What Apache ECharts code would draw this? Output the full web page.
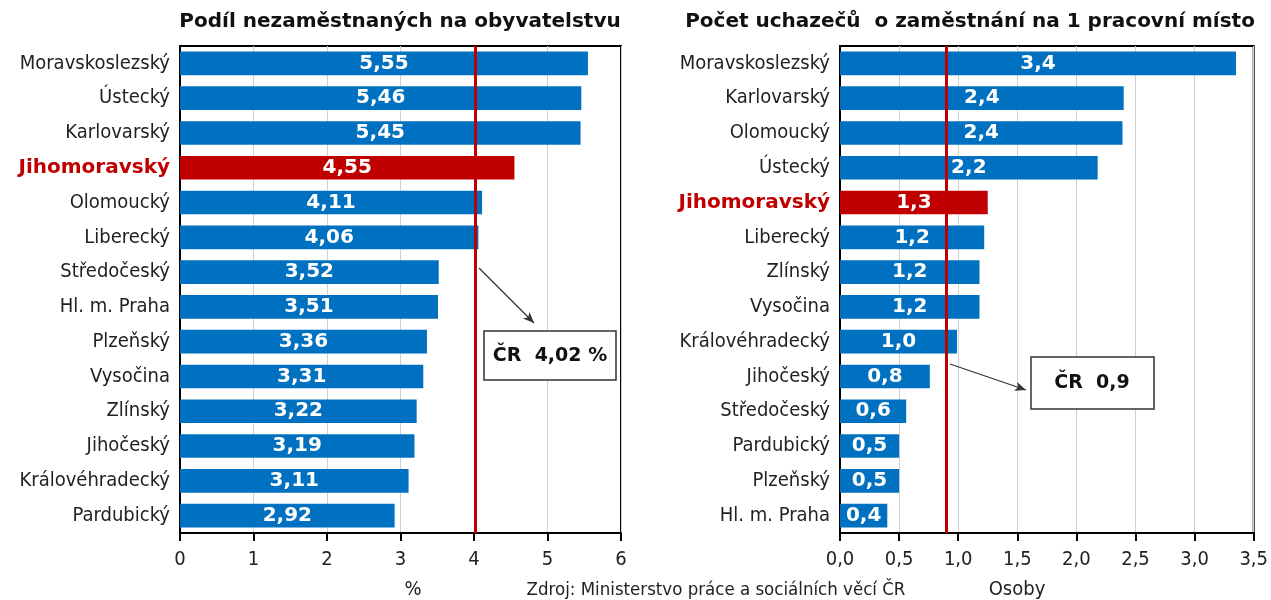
<!DOCTYPE html>
<html>
<head>
<meta charset="utf-8">
<script src="https://cdn.jsdelivr.net/npm/echarts@6/dist/echarts.min.js"></script>
<style>
  html, body { margin: 0; padding: 0; background: #fff; }
  #chart { width: 1271px; height: 600px; }
</style>
</head>
<body>
<div id="chart"></div>
<script>
  // podíl nezaměstnaných (%)
  const leftRegions = ['Moravskoslezský', 'Ústecký', 'Karlovarský', 'Jihomoravský', 'Olomoucký', 'Liberecký',
    'Středočeský', 'Hl. m. Praha', 'Plzeňský', 'Vysočina', 'Zlínský', 'Jihočeský', 'Královéhradecký', 'Pardubický'];
  const leftValues = [5.55, 5.46, 5.45, 4.55, 4.11, 4.06, 3.52, 3.51, 3.36, 3.31, 3.22, 3.19, 3.11, 2.92];
  const leftCR = 4.02;

  // uchazeči na 1 pracovní místo
  const rightRegions = ['Moravskoslezský', 'Karlovarský', 'Olomoucký', 'Ústecký', 'Jihomoravský', 'Liberecký',
    'Zlínský', 'Vysočina', 'Královéhradecký', 'Jihočeský', 'Středočeský', 'Pardubický', 'Plzeňský', 'Hl. m. Praha'];
  const rightValues = [3.35, 2.4, 2.39, 2.18, 1.25, 1.22, 1.18, 1.18, 0.99, 0.76, 0.56, 0.5, 0.5, 0.4];
  const rightCR = 0.9;

  const highlight = 'Jihomoravský';
  const BLUE = '#0070c0';
  const RED = '#c00000';
  const FONT = "'DejaVu Sans Condensed', 'DejaVu Sans', sans-serif";

  const comma = (v, d) => v.toFixed(d).replace('.', ',');

  function barData(names, values) {
    return values.map((v, i) => ({
      value: v,
      itemStyle: { color: names[i] === highlight ? RED : BLUE }
    }));
  }

  function yAxis(idx, names) {
    return {
      type: 'category',
      gridIndex: idx,
      data: names,
      inverse: true,
      axisLine: { lineStyle: { color: '#000', width: 2 } },
      axisTick: { length: 5, lineStyle: { color: '#000', width: 2 } },
      axisLabel: {
        margin: 10,
        fontFamily: FONT,
        fontSize: 20,
        color: '#222',
        formatter: n => n === highlight ? '{hl|' + n + '}' : n,
        rich: { hl: { color: RED, fontWeight: 'bold', fontSize: 20, fontFamily: "'DejaVu Sans', sans-serif" } }
      }
    };
  }

  function xAxis(idx, max, interval, digits) {
    return {
      type: 'value',
      gridIndex: idx,
      min: 0,
      max: max,
      interval: interval,
      axisLine: { show: true, lineStyle: { color: '#000', width: 2 } },
      axisTick: { show: true, length: 8, lineStyle: { color: '#000', width: 2 } },
      splitLine: { lineStyle: { color: '#d0d0d0', width: 1 } },
      axisLabel: {
        margin: 17,
        fontFamily: FONT,
        fontSize: 20,
        color: '#222',
        formatter: v => comma(v, digits)
      }
    };
  }

  function barSeries(idx, names, values, digits, cr, arrow) {
    return {
      type: 'bar',
      xAxisIndex: idx,
      yAxisIndex: idx,
      data: barData(names, values),
      barCategoryGap: '32%',
      label: {
        show: true,
        position: 'inside',
        color: '#fff',
        fontFamily: "'DejaVu Sans', sans-serif",
        fontWeight: 'bold',
        fontSize: 20,
        formatter: p => comma(p.value, digits)
      },
      markLine: {
        silent: true,
        animation: false,
        symbol: 'none',
        label: { show: false },
        data: [
          { xAxis: cr, lineStyle: { color: RED, width: 3, type: 'solid' } },
          [
            { x: arrow[0], y: arrow[1], symbol: 'none', lineStyle: { color: '#333', width: 1.2, type: 'solid' } },
            { x: arrow[2], y: arrow[3], symbol: 'arrow', symbolSize: [7, 11] }
          ]
        ]
      }
    };
  }

  const chart = echarts.init(document.getElementById('chart'));

  chart.setOption({
    animation: false,
    textStyle: { fontFamily: FONT },
    title: [
      { text: 'Podíl nezaměstnaných na obyvatelstvu', left: 395, top: 7, textAlign: 'center',
        textStyle: { fontFamily: "'DejaVu Sans', sans-serif", fontWeight: 'bold', fontSize: 20, color: '#111' } },
      { text: 'Počet uchazečů  o zaměstnání na 1 pracovní místo', left: 965, top: 7, textAlign: 'center',
        textStyle: { fontFamily: "'DejaVu Sans', sans-serif", fontWeight: 'bold', fontSize: 20, color: '#111' } }
    ],
    grid: [
      { left: 180, right: 650, top: 46, bottom: 67, show: true, borderColor: '#000', borderWidth: 2 },
      { left: 840, right: 11, top: 46, bottom: 67, show: true, borderColor: '#000', borderWidth: 2 }
    ],
    xAxis: [xAxis(0, 6, 1, 0), xAxis(1, 3.5, 0.5, 1)],
    yAxis: [yAxis(0, leftRegions), yAxis(1, rightRegions)],
    series: [
      barSeries(0, leftRegions, leftValues, 2, leftCR, [479, 268, 534, 323]),
      barSeries(1, rightRegions, rightValues, 1, rightCR, [950, 364, 1026, 390])
    ],
    graphic: [
      { type: 'rect', shape: { x: 484, y: 331, width: 132, height: 49 },
        style: { fill: '#fff', stroke: '#333', lineWidth: 1.5 }, z: 100 },
      { type: 'text', x: 550, y: 356, z: 101,
        style: { text: 'ČR  4,02 %', fill: '#111', font: "bold 19px 'DejaVu Sans', sans-serif", align: 'center', verticalAlign: 'middle' } },
      { type: 'rect', shape: { x: 1031, y: 357, width: 123, height: 52 },
        style: { fill: '#fff', stroke: '#333', lineWidth: 1.5 }, z: 100 },
      { type: 'text', x: 1092, y: 383, z: 101,
        style: { text: 'ČR  0,9', fill: '#111', font: "bold 19px 'DejaVu Sans', sans-serif", align: 'center', verticalAlign: 'middle' } },
      { type: 'text', x: 413, y: 590,
        style: { text: '%', fill: '#222', font: "20px 'DejaVu Sans Condensed', sans-serif", align: 'center', verticalAlign: 'middle' } },
      { type: 'text', x: 716, y: 590,
        style: { text: 'Zdroj: Ministerstvo práce a sociálních věcí ČR', fill: '#222', font: "18.5px 'DejaVu Sans Condensed', sans-serif", align: 'center', verticalAlign: 'middle' } },
      { type: 'text', x: 1017, y: 590,
        style: { text: 'Osoby', fill: '#222', font: "20px 'DejaVu Sans Condensed', sans-serif", align: 'center', verticalAlign: 'middle' } }
    ]
  });
</script>
</body>
</html>
